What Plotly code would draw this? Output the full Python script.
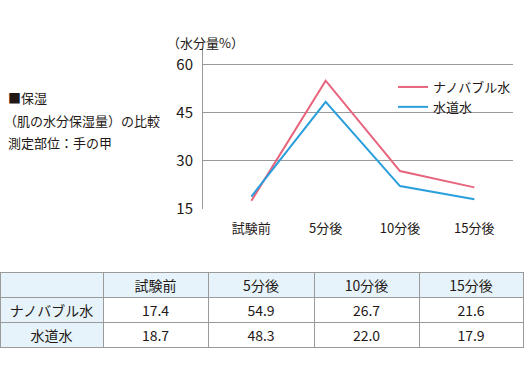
import plotly.graph_objects as go

categories = ["試験前", "5分後", "10分後", "15分後"]
nano = [17.4, 54.9, 26.7, 21.6]
tap = [18.7, 48.3, 22.0, 17.9]
series_names = ["ナノバブル水", "水道水"]
y_ticks = [15, 30, 45, 60]

PINK = "#e8647d"
BLUE = "#2a9fdc"
TXT = "#231815"
GRID = "#9a9a9a"
HEAD = "#e6f3fb"
FONT = "Noto Sans CJK JP"
W, H = 526, 378

fig = go.Figure()
fig.add_trace(go.Scatter(x=categories, y=nano, mode="lines", name=series_names[0],
                         line=dict(color=PINK, width=2)))
fig.add_trace(go.Scatter(x=categories, y=tap, mode="lines", name=series_names[1],
                         line=dict(color=BLUE, width=2)))

def fmt(v):
    return f"{v:.1f}"

fig.add_trace(go.Table(
    domain=dict(x=[0, 523 / W], y=[(H - 349) / H, (H - 272) / H]),
    columnwidth=[103, 105, 106, 105, 104],
    header=dict(values=[""] + categories, fill_color=HEAD, height=25,
                line=dict(color=GRID, width=1), align="center",
                font=dict(family=FONT, size=14, color=TXT)),
    cells=dict(values=[series_names] + [[fmt(nano[i]), fmt(tap[i])] for i in range(4)],
               fill_color=[[HEAD, HEAD]] + [["white", "white"]] * 4, height=25,
               line=dict(color=GRID, width=1), align="center",
               font=dict(family=FONT, size=14, color=TXT)),
))

fig.update_layout(
    width=W, height=H, margin=dict(l=0, r=0, t=0, b=0, autoexpand=False),
    paper_bgcolor="white", plot_bgcolor="white",
    font=dict(family=FONT, color=TXT, size=13),
    showlegend=True,
    legend=dict(x=393 / W, y=(H - 72) / H, xanchor="left", yanchor="top",
                bgcolor="rgba(0,0,0,0)", font=dict(size=13, color=TXT),
                tracegroupgap=0, itemwidth=30),
    xaxis=dict(domain=[203 / W, 513 / W], range=[-0.65, 3.52], showgrid=False,
               showline=False, ticks="", tickfont=dict(size=13, color=TXT),
               ticklabelstandoff=10, zeroline=False, fixedrange=True),
    yaxis=dict(domain=[(H - 208.5) / H, (H - 49) / H], range=[15, 64.8],
               tickvals=y_ticks, showgrid=True, gridcolor=GRID, gridwidth=1,
               showline=True, linecolor=GRID, linewidth=1, ticks="",
               tickfont=dict(size=15, color=TXT), ticklabelstandoff=6,
               zeroline=False, fixedrange=True),
)

notes = [
    ("（水分量%）", 165, 42),
    ("■保湿", 6, 97),
    ("（肌の水分保湿量）の比較", 2, 120),
    ("測定部位：手の甲", 6, 143),
]
for t, x, y in notes:
    fig.add_annotation(text=t, x=x / W, y=(H - y) / H, xref="paper", yref="paper",
                       xanchor="left", yanchor="middle", showarrow=False,
                       font=dict(size=13, color=TXT, family=FONT))

fig.write_html("out.html", config={"displayModeBar": False},
               post_script="document.body.style.margin='0';")
